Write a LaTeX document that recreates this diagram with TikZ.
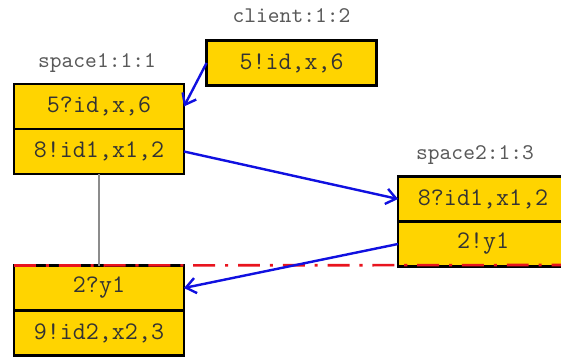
\documentclass[tikz,border=0pt]{standalone}
\usepackage{tikz}
\usetikzlibrary{arrows.meta, positioning}
\usepackage{xcolor}
\definecolor{cellgold}{HTML}{FFD400}
\definecolor{msgblue}{HTML}{1010E0}
\definecolor{cutred}{HTML}{E8141E}

\begin{document}
\begin{tikzpicture}[x=0.016cm, y=-0.016cm, >={Straight Barb[length=4.5pt, width=7pt]},
    cell/.style={draw=black, line width=1.2pt, fill=cellgold, outer sep=0pt,
      minimum width=2.72cm, minimum height=0.72cm,
      font=\ttfamily\fontsize{11.5}{13}\selectfont, text=black!80},
    tag/.style={font=\ttfamily\fontsize{10.2}{12}\selectfont, text=black!65},
    msg/.style={->, line width=1.1pt, msgblue},
    link/.style={line width=1pt, black!45},
    cut/.style={line width=1.2pt, cutred,
      dash pattern=on 10pt off 4.5pt on 1.4pt off 4.5pt}]
  \clip (0, 0) rectangle (561, 358);

  % Client process
  \node[cell] (client) at (291.5, 63) {5!id,x,6};
  \node[tag] (clienttag) at (291.5, 16) {client:1:2};

  % First space process
  \node[cell] (s1a) at (99, 106.5) {5?id,x,6};
  \node[cell, below=0pt of s1a] (s1b) {8!id1,x1,2};
  \node[tag] (s1tag) at (97, 63) {space1:1:1};

  % Second space process
  \node[cell] (s2a) at (483, 199) {8?id1,x1,2};
  \node[cell, below=0pt of s2a] (s2b) {2!y1};
  \node[tag] (s2tag) at (475, 155) {space2:1:3};

  % Continuation of the first space
  \node[cell] (s3a) at (99, 288) {2?y1};
  \node[cell, below=0pt of s3a] (s3b) {9!id2,x2,3};

  % Local order
  \draw[link] (s1b.south) -- (s3a.north);

  % Cut line
  \coordinate (cutend) at (561, 265);
  \draw[cut] (s3a.north west) -- (cutend);

  % Messages
  \draw[msg] (client.west) -- (s1a.east);
  \draw[msg] (s1b.east) -- (s2a.west);
  \draw[msg] (s2b.west) -- (s3a.east);
\end{tikzpicture}
\end{document}
